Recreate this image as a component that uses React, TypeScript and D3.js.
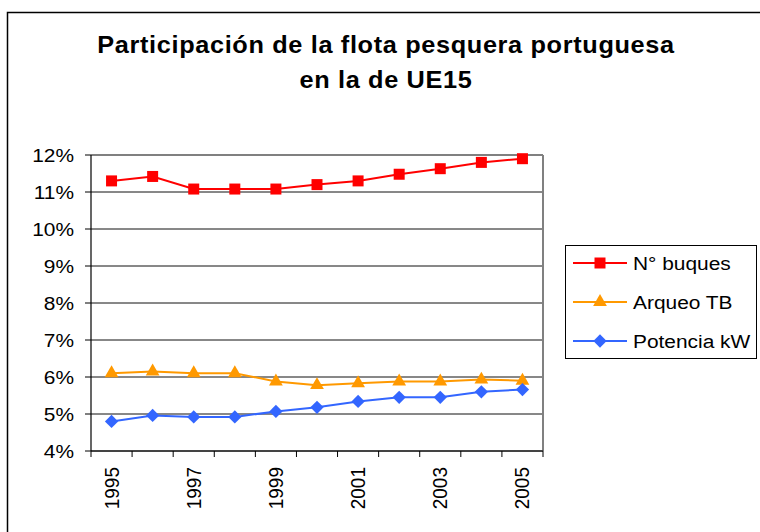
import React from "react";
import * as d3 from "d3";

const years = ["1995","1996","1997","1998","1999","2000","2001","2002","2003","2004","2005"];
const yearLabels = ["1995","1997","1999","2001","2003","2005"];
const buques = [11.3, 11.42, 11.08, 11.08, 11.08, 11.2, 11.3, 11.48, 11.63, 11.8, 11.9];
const arqueo = [6.1, 6.15, 6.1, 6.1, 5.88, 5.78, 5.83, 5.88, 5.88, 5.93, 5.9];
const potencia = [4.8, 4.96, 4.92, 4.92, 5.07, 5.18, 5.34, 5.45, 5.45, 5.6, 5.66];
const yTicks = [4, 5, 6, 7, 8, 9, 10, 11, 12];
const seriesNames = ["N° buques", "Arqueo TB", "Potencia kW"];
const titleLines = ["Participación de la flota pesquera portuguesa", "en la de UE15"];

const FONT = "'Liberation Sans', Arial, sans-serif";
const SX = 1.1;

export default function App() {
  const left = 91, right = 543, top = 155, bottom = 451;
  const x = d3.scaleBand<string>().domain(years).range([left, right]);
  const y = d3.scaleLinear().domain([4, 12]).range([bottom, top]);
  const cx = (d: string) => (x(d) as number) + x.bandwidth() / 2;

  const series = [
    { name: seriesNames[0], values: buques, color: "#FF0000", sym: d3.symbol().type(d3.symbolSquare).size(121)(), rot: 0 },
    { name: seriesNames[1], values: arqueo, color: "#FF9900", sym: d3.symbol().type(d3.symbolTriangle).size(82)(), rot: 0 },
    { name: seriesNames[2], values: potencia, color: "#3366FF", sym: d3.symbol().type(d3.symbolSquare).size(88)(), rot: 45 },
  ];

  const line = d3.line<number>().x((_, i) => cx(years[i])).y((v) => y(v));
  const boundaries = d3.range(years.length + 1).map((i) => left + i * x.bandwidth());

  const legendRows = [263, 302, 341];

  return (
    <svg width={760} height={532} style={{ position: "absolute", left: 0, top: 0, background: "#fff" }} fontFamily={FONT}>
      <rect x={0} y={0} width={760} height={532} fill="#fff" />
      <rect x={7.5} y={12.5} width={800} height={600} fill="none" stroke="#000" strokeWidth={1.5} />

      {titleLines.map((t, i) => (
        <text key={i} transform={`translate(386, ${53 + i * 35}) scale(${SX},1)`} textAnchor="middle"
          fontSize={23} fontWeight="bold" letterSpacing={0.6} fill="#000">{t}</text>
      ))}

      {yTicks.map((t) => (
        <line key={t} x1={left} x2={right} y1={y(t)} y2={y(t)} stroke="#111" strokeWidth={1} />
      ))}
      <line x1={left} x2={right} y1={top} y2={top} stroke="#808080" strokeWidth={2} />
      <line x1={right} x2={right} y1={top} y2={bottom} stroke="#808080" strokeWidth={2} />
      <line x1={left} x2={left} y1={top} y2={bottom} stroke="#000" strokeWidth={1.2} />
      <line x1={left} x2={right} y1={bottom} y2={bottom} stroke="#000" strokeWidth={1.2} />
      {yTicks.map((t) => (
        <line key={"yt" + t} x1={left - 6} x2={left} y1={y(t)} y2={y(t)} stroke="#000" strokeWidth={1} />
      ))}
      {boundaries.map((b, i) => (
        <line key={"xt" + i} x1={b} x2={b} y1={bottom} y2={bottom + 6} stroke="#000" strokeWidth={1} />
      ))}

      {yTicks.map((t) => (
        <text key={"yl" + t} transform={`translate(74, ${y(t) + 7}) scale(${SX},1)`} textAnchor="end"
          fontSize={19} fill="#000">{t}%</text>
      ))}
      {yearLabels.map((yr) => (
        <text key={"xl" + yr} transform={`translate(${cx(yr) + 7}, ${bottom + 16}) rotate(-90) scale(1,${SX})`}
          textAnchor="end" fontSize={19} fill="#000">{yr}</text>
      ))}

      {series.map((s) => (
        <g key={s.name}>
          <path d={line(s.values) as string} fill="none" stroke={s.color} strokeWidth={2} />
          {s.values.map((v, i) => (
            <path key={i} d={s.sym as string} fill={s.color}
              transform={`translate(${cx(years[i])}, ${y(v)}) rotate(${s.rot})`} />
          ))}
        </g>
      ))}

      <rect x={565.5} y={245.5} width={191} height={113} fill="#fff" stroke="#000" strokeWidth={1} />
      {series.map((s, i) => (
        <g key={"lg" + i}>
          <line x1={573} x2={627} y1={legendRows[i]} y2={legendRows[i]} stroke={s.color} strokeWidth={2} />
          <path d={s.sym as string} fill={s.color} transform={`translate(600, ${legendRows[i]}) rotate(${s.rot})`} />
          <text transform={`translate(633, ${legendRows[i] + 7}) scale(${SX},1)`} fontSize={19} fill="#000">{s.name}</text>
        </g>
      ))}
    </svg>
  );
}
